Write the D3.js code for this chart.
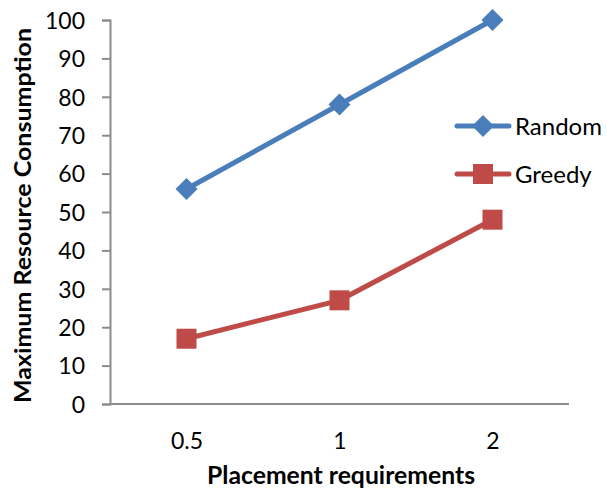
<!DOCTYPE html>
<html><head><meta charset="utf-8">
<script src="https://cdn.jsdelivr.net/npm/d3@7"></script>
<style>body{margin:0;background:#fff}svg{display:block}text{font-family:Lato,"Open Sans",sans-serif;fill:#000}</style>
</head><body><svg id="c" width="607" height="491"></svg>
<script>
const categories = ["0.5", "1", "2"];
const randomValues = [56, 78, 100];
const greedyValues = [17, 27, 48];
const yTicks = [0,10,20,30,40,50,60,70,80,90,100];
const seriesNames = ["Random", "Greedy"];

const svg = d3.select("#c");
const x = d3.scalePoint().domain(categories).range([110, 569]).padding(0.5);
const y = d3.scaleLinear().domain([0, 100]).range([404, 20]);

const yAxis = svg.append("g").attr("transform","translate(110,0)")
  .call(d3.axisLeft(y).tickValues(yTicks).tickSize(8).tickPadding(17));
yAxis.select(".domain").attr("stroke","#8c8c8c").attr("stroke-width",2);
yAxis.selectAll(".tick line").attr("stroke","#8c8c8c").attr("stroke-width",2);
yAxis.selectAll("text").attr("font-size",23).attr("font-family","Lato").attr("dy","0.36em");

const xAxis = svg.append("g").attr("transform","translate(0,404)")
  .call(d3.axisBottom(x).tickSize(0).tickPadding(29));
xAxis.select(".domain").attr("stroke","#8c8c8c").attr("stroke-width",2).attr("d","M110,0H569");
xAxis.selectAll("text").attr("font-size",23).attr("font-family","Lato");

svg.append("text").attr("x",341).attr("y",484).attr("text-anchor","middle")
  .attr("font-size",24).attr("font-weight","bold")
  .attr("textLength",268).attr("lengthAdjust","spacingAndGlyphs").text("Placement requirements");
svg.append("text").attr("transform","translate(31,215.5) rotate(-90)").attr("text-anchor","middle")
  .attr("font-size",23.5).attr("font-weight","bold")
  .attr("textLength",375).attr("lengthAdjust","spacingAndGlyphs").text("Maximum Resource Consumption");

const series = [
  {name: seriesNames[0], values: randomValues, color:"#4A7EBB", shape:"diamond"},
  {name: seriesNames[1], values: greedyValues, color:"#BE4B48", shape:"square"}
];
const line = d3.line().x((d,i)=>x(categories[i])).y(d=>y(d));
function marker(g, shape, color, cx, cy){
  if(shape==="diamond"){
    g.append("path").attr("d",`M${cx},${cy-11}L${cx+11},${cy}L${cx},${cy+11}L${cx-11},${cy}Z`).attr("fill",color);
  } else {
    g.append("rect").attr("x",cx-10).attr("y",cy-10).attr("width",20).attr("height",20).attr("fill",color);
  }
}
series.forEach(s=>{
  svg.append("path").datum(s.values).attr("d",line).attr("fill","none")
    .attr("stroke",s.color).attr("stroke-width",5);
  const g = svg.append("g");
  s.values.forEach((v,i)=>marker(g,s.shape,s.color,x(categories[i]),y(v)));
});

// legend
series.forEach((s,i)=>{
  const ly = 126 + i*48;
  const g = svg.append("g");
  g.append("line").attr("x1",457).attr("x2",509).attr("y1",ly).attr("y2",ly)
    .attr("stroke",s.color).attr("stroke-width",5).attr("stroke-linecap","round");
  marker(g, s.shape, s.color, 483, ly);
  g.append("text").attr("x",515).attr("y",ly).attr("dy","0.36em").attr("font-size",24).text(s.name);
});
</script></body></html>
